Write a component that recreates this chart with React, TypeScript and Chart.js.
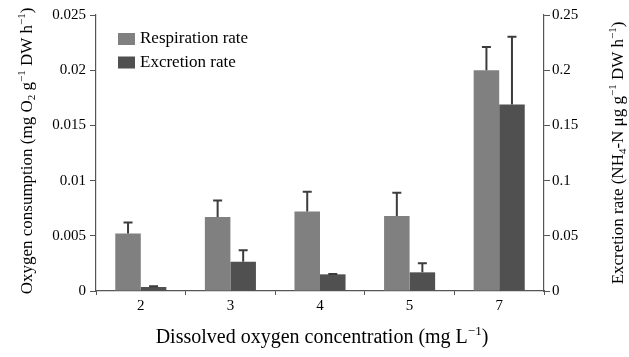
import React, { useEffect, useRef } from 'react';
import { Chart, registerables } from 'chart.js';

Chart.register(...registerables);

const categories = ['2', '3', '4', '5', '7'];
const respirationRate = [0.0052, 0.0067, 0.0072, 0.0068, 0.02];
const respirationErr = [0.001, 0.0015, 0.0018, 0.0021, 0.0021];
const excretionRate = [0.0036, 0.0265, 0.0151, 0.0169, 0.169];
const excretionErr = [0.0006, 0.0104, 0.0003, 0.0082, 0.0614];
const leftTicks = [0, 0.005, 0.01, 0.015, 0.02, 0.025];
const leftTickLabels = ['0', '0.005', '0.01', '0.015', '0.02', '0.025'];
const rightTicks = [0, 0.05, 0.1, 0.15, 0.2, 0.25];
const rightTickLabels = ['0', '0.05', '0.1', '0.15', '0.2', '0.25'];
const seriesNames = ['Respiration rate', 'Excretion rate'];

type Seg = { t: string; k?: 'sup' | 'sub' };
const leftTitle: Seg[] = [
  { t: 'Oxygen consumption (mg O' }, { t: '2', k: 'sub' }, { t: ' g' }, { t: '−1', k: 'sup' },
  { t: ' DW h' }, { t: '−1', k: 'sup' }, { t: ')' },
];
const rightTitle: Seg[] = [
  { t: 'Excretion rate (NH' }, { t: '4', k: 'sub' }, { t: '-N μg g' }, { t: '−1', k: 'sup' },
  { t: ' DW h' }, { t: '−1', k: 'sup' }, { t: ')' },
];
const xTitle: Seg[] = [
  { t: 'Dissolved oxygen concentration (mg L' }, { t: '−1', k: 'sup' }, { t: ')' },
];

const FONT = '"Liberation Serif", "Times New Roman", serif';
const axisColor = '#555555';
const colors = ['#808080', '#505050'];

function drawRich(ctx: CanvasRenderingContext2D, segs: Seg[], cx: number, cy: number, angle: number, size: number) {
  ctx.save();
  ctx.translate(cx, cy);
  ctx.rotate(angle);
  const base = `${size}px ${FONT}`;
  const small = `${Math.round(size * 0.65)}px ${FONT}`;
  let total = 0;
  for (const s of segs) {
    ctx.font = s.k ? small : base;
    total += ctx.measureText(s.t).width;
  }
  let x = -total / 2;
  ctx.fillStyle = '#000';
  ctx.textAlign = 'left';
  ctx.textBaseline = 'alphabetic';
  const bl = size * 0.33;
  for (const s of segs) {
    ctx.font = s.k ? small : base;
    const dy = s.k === 'sup' ? -size * 0.38 : s.k === 'sub' ? size * 0.2 : 0;
    ctx.fillText(s.t, x, bl + dy);
    x += ctx.measureText(s.t).width;
  }
  ctx.restore();
}

const errorBarPlugin = {
  id: 'errorBars',
  afterDatasetsDraw(chart: any) {
    const ctx = chart.ctx;
    chart.data.datasets.forEach((ds: any, di: number) => {
      const meta = chart.getDatasetMeta(di);
      const scale = chart.scales[ds.yAxisID];
      meta.data.forEach((bar: any, i: number) => {
        const v = ds.data[i];
        const e = ds.errors[i];
        const y0 = scale.getPixelForValue(v);
        const y1 = scale.getPixelForValue(v + e);
        ctx.save();
        ctx.strokeStyle = '#3c3c3c';
        ctx.lineWidth = 2;
        ctx.beginPath();
        ctx.moveTo(bar.x, y0);
        ctx.lineTo(bar.x, y1);
        ctx.moveTo(bar.x - 4.5, y1);
        ctx.lineTo(bar.x + 4.5, y1);
        ctx.stroke();
        ctx.restore();
      });
    });
  },
};

const decorPlugin = {
  id: 'decor',
  afterDraw(chart: any) {
    const ctx = chart.ctx;
    const ca = chart.chartArea;
    const midY = (ca.top + ca.bottom) / 2;
    drawRich(ctx, leftTitle, 26, midY - 2, -Math.PI / 2, 17);
    drawRich(ctx, rightTitle, 617, midY, -Math.PI / 2, 17);
    drawRich(ctx, xTitle, (ca.left + ca.right) / 2 + 2, 336, 0, 20);
    // legend
    ctx.save();
    seriesNames.forEach((name, i) => {
      const bx = ca.left + 22;
      const cy = ca.top + 24 + i * 23.5;
      ctx.fillStyle = colors[i];
      ctx.fillRect(bx, cy - 6, 17, 12);
      ctx.fillStyle = '#000';
      ctx.font = `17px ${FONT}`;
      ctx.textAlign = 'left';
      ctx.textBaseline = 'middle';
      ctx.fillText(name, bx + 22, cy);
    });
    ctx.restore();
  },
};

export default function App() {
  const ref = useRef<HTMLCanvasElement | null>(null);
  useEffect(() => {
    document.body.style.margin = '0';
    if (!ref.current) return;
    const tickFont = { family: FONT, size: 15 };
    const chart = new Chart(ref.current, {
      type: 'bar',
      data: {
        labels: categories,
        datasets: [
          { label: seriesNames[0], data: respirationRate, errors: respirationErr, yAxisID: 'y', backgroundColor: colors[0], borderWidth: 0 } as any,
          { label: seriesNames[1], data: excretionRate, errors: excretionErr, yAxisID: 'y1', backgroundColor: colors[1], borderWidth: 0 } as any,
        ],
      },
      options: {
        responsive: false,
        animation: false,
        layout: { padding: { top: 15, left: 0, right: 0, bottom: 0 } },
        datasets: { bar: { categoryPercentage: 0.57, barPercentage: 1.0 } },
        plugins: { legend: { display: false }, tooltip: { enabled: false } },
        scales: {
          x: {
            grid: { display: true, drawOnChartArea: false, tickLength: 4, color: axisColor, offset: true },
            border: { color: axisColor, width: 1.2 },
            ticks: { font: tickFont, color: '#000', padding: 2 },
            afterFit: (s: any) => { s.height = 66; },
          },
          y: {
            position: 'left',
            min: 0,
            max: 0.025,
            afterBuildTicks: (s: any) => { s.ticks = leftTicks.map((v) => ({ value: v })); },
            ticks: { font: tickFont, color: '#000', padding: 4, callback: (_v: any, i: number) => leftTickLabels[i] },
            grid: { drawOnChartArea: false, tickLength: 6, color: axisColor },
            border: { color: axisColor, width: 1.2 },
            afterFit: (s: any) => { s.width = 96; },
          },
          y1: {
            position: 'right',
            min: 0,
            max: 0.25,
            afterBuildTicks: (s: any) => { s.ticks = rightTicks.map((v) => ({ value: v })); },
            ticks: { font: tickFont, color: '#000', padding: 2, callback: (_v: any, i: number) => rightTickLabels[i] },
            grid: { drawOnChartArea: false, tickLength: 6, color: axisColor },
            border: { color: axisColor, width: 1.2 },
            afterFit: (s: any) => { s.width = 85; },
          },
        },
      } as any,
      plugins: [errorBarPlugin, decorPlugin],
    });
    return () => chart.destroy();
  }, []);
  return (
    <div style={{ width: 629, height: 357 }}>
      <canvas ref={ref} width={629} height={357} />
    </div>
  );
}
